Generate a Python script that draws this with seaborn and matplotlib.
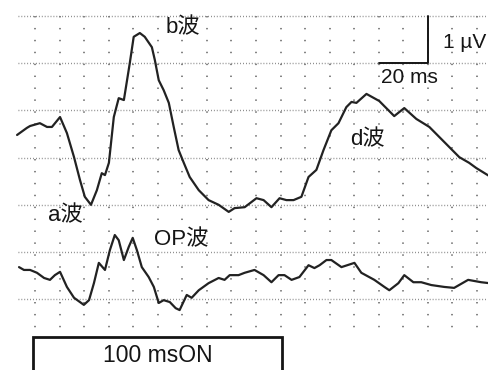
import numpy as np
import pandas as pd
import matplotlib
matplotlib.use("Agg")
import matplotlib.pyplot as plt
from matplotlib.patches import Rectangle
import seaborn as sns

# ERG trace (a, b, d waves): time in ms, amplitude in uV (grid units)
erg_t = [-7.3, -3.3, -2.0, 2.0, 4.9, 6.9, 10.2, 13.0, 15.9, 18.3, 20.3, 22.8,
         25.2, 27.2, 28.5, 30.1, 32.1, 34.1, 36.2, 38.6, 40.2, 42.7, 44.7, 47.6,
         48.8, 50.4, 52.4, 54.5, 56.5, 58.5, 60.6, 63.0, 66.7, 70.7, 74.8, 78.9,
         81.3, 85.4, 90.2, 93.1, 96.3, 99.6, 102.4, 105.3, 108.5, 111.4, 114.6,
         117.5, 120.7, 123.6, 126.8, 128.9, 130.9, 135.0, 140.2, 146.3, 150.4,
         155.3, 160.6, 166.7, 172.8, 176.8, 179.7, 185.0]
erg_v = [3.48, 3.63, 3.67, 3.73, 3.65, 3.65, 3.86, 3.52, 3.01, 2.53, 2.17, 2.00,
         2.31, 2.67, 2.63, 2.89, 3.86, 4.26, 4.22, 5.00, 5.56, 5.64, 5.56, 5.34,
         5.07, 4.64, 4.43, 4.16, 3.65, 3.16, 2.89, 2.59, 2.31, 2.10, 2.00, 1.85,
         1.93, 1.95, 2.14, 2.10, 1.95, 2.14, 2.10, 2.10, 2.17, 2.59, 2.74,
         3.16, 3.58, 3.73, 4.07, 4.18, 4.16, 4.35, 4.20, 3.88, 4.05,
         3.82, 3.65, 3.33, 3.01, 2.89, 2.78, 2.61]

# oscillatory potentials trace
op_t = [-6.5, -4.5, -2.0, 0.8, 3.7, 6.1, 8.1, 10.2, 13.0, 15.9, 18.3, 19.9, 22.0,
        24.0, 26.0, 28.5, 30.5, 32.5, 34.1, 36.2, 38.2, 39.8, 41.5, 43.5, 46.3,
        48.4, 50.4, 52.4, 54.9, 57.3, 58.9, 61.8, 63.8, 66.7, 70.7, 74.8, 77.2,
        79.3, 82.9, 85.4, 89.4, 93.1, 96.3, 99.2, 101.6, 104.5, 107.7, 111.4,
        113.8, 115.9, 118.7, 120.7, 124.8, 130.1, 132.9, 138.2, 142.3, 144.3,
        148.0, 150.4, 154.1, 157.3, 161.4, 166.7, 170.7, 176.4, 181.7, 185.0]
op_v = [0.68, 0.62, 0.62, 0.56, 0.45, 0.41, 0.51, 0.58, 0.26, 0.03, -0.06, -0.12, -0.02,
        0.34, 0.77, 0.62, 1.04, 1.36, 1.25, 0.83, 1.11, 1.30, 1.04, 0.68, 0.47,
        0.26, -0.08, -0.02, -0.06, -0.19, -0.23, 0.09, 0.03, 0.19, 0.34, 0.45, 0.41,
        0.51, 0.51, 0.56, 0.62, 0.51, 0.36, 0.51, 0.51, 0.41, 0.47, 0.72,
        0.66, 0.72, 0.83, 0.83, 0.68, 0.77, 0.56, 0.41, 0.26, 0.19,
        0.34, 0.51, 0.36, 0.36, 0.30, 0.26, 0.24, 0.41, 0.36, 0.34]

wave_labels = ["a波", "b波", "OP波", "d波"]
wave_label_t = [12.2, 60.3, 59.4, 135.2]
wave_label_v = [1.76, 5.75, 1.25, 3.37]

grid_t = list(range(0, 190, 10))
grid_v = [0, 1, 2, 3, 4, 5, 6]

stim_on, stim_off = 0, 100
stim_label = "100 msON"

df = pd.concat([
    pd.DataFrame({"t": erg_t, "v": erg_v, "trace": "erg"}),
    pd.DataFrame({"t": op_t, "v": op_v, "trace": "op"}),
])

sns.set_style("white")
plt.rcParams["font.family"] = ["Liberation Sans", "Noto Sans CJK JP", "DejaVu Sans"]

fig = plt.figure(figsize=(4.89, 3.70), dpi=100)
ax = fig.add_axes([0, 0, 1, 1])
ax.set_xlim(-14.25, 184.9)
ax.set_ylim(-1.5, 6.34)
ax.axis("off")

# dotted grid
for gv in grid_v:
    ax.plot([-7, 185], [gv, gv], color="#7a7a7a", lw=1.0,
            linestyle=(0, (0.6, 1.5)), zorder=1)
for gt in grid_t:
    ax.plot([gt, gt], [6, -0.65], color="#7a7a7a", lw=1.3,
            linestyle=(0, (0.8, 5.8)), zorder=1)

sns.lineplot(data=df, x="t", y="v", units="trace", estimator=None, sort=False,
             color="#222222", lw=1.6, ax=ax, zorder=3, legend=False)

for lab, lt, lv in zip(wave_labels, wave_label_t, wave_label_v):
    ax.text(lt, lv, lab, fontsize=16, ha="center", va="center", color="#151515",
            zorder=4)

# scale bar: 20 ms x 1 uV
ax.plot([140, 160, 160], [5, 5, 6], color="#151515", lw=1.4, zorder=4)
ax.text(174.9, 5.43, "1 µV", fontsize=15, ha="center", va="center", color="#151515")
ax.text(152.3, 4.69, "20 ms", fontsize=15, ha="center", va="center", color="#151515")

# stimulus box
ax.add_patch(Rectangle((stim_on - 0.8, -2.0), stim_off - stim_on + 1.6, 1.2,
                       fill=False, edgecolor="#151515", lw=2.0, zorder=4))
ax.text((stim_on + stim_off) / 2, -1.2, stim_label, fontsize=16.5, ha="center",
        va="center", color="#151515")

fig.savefig("out.png", dpi=100)
